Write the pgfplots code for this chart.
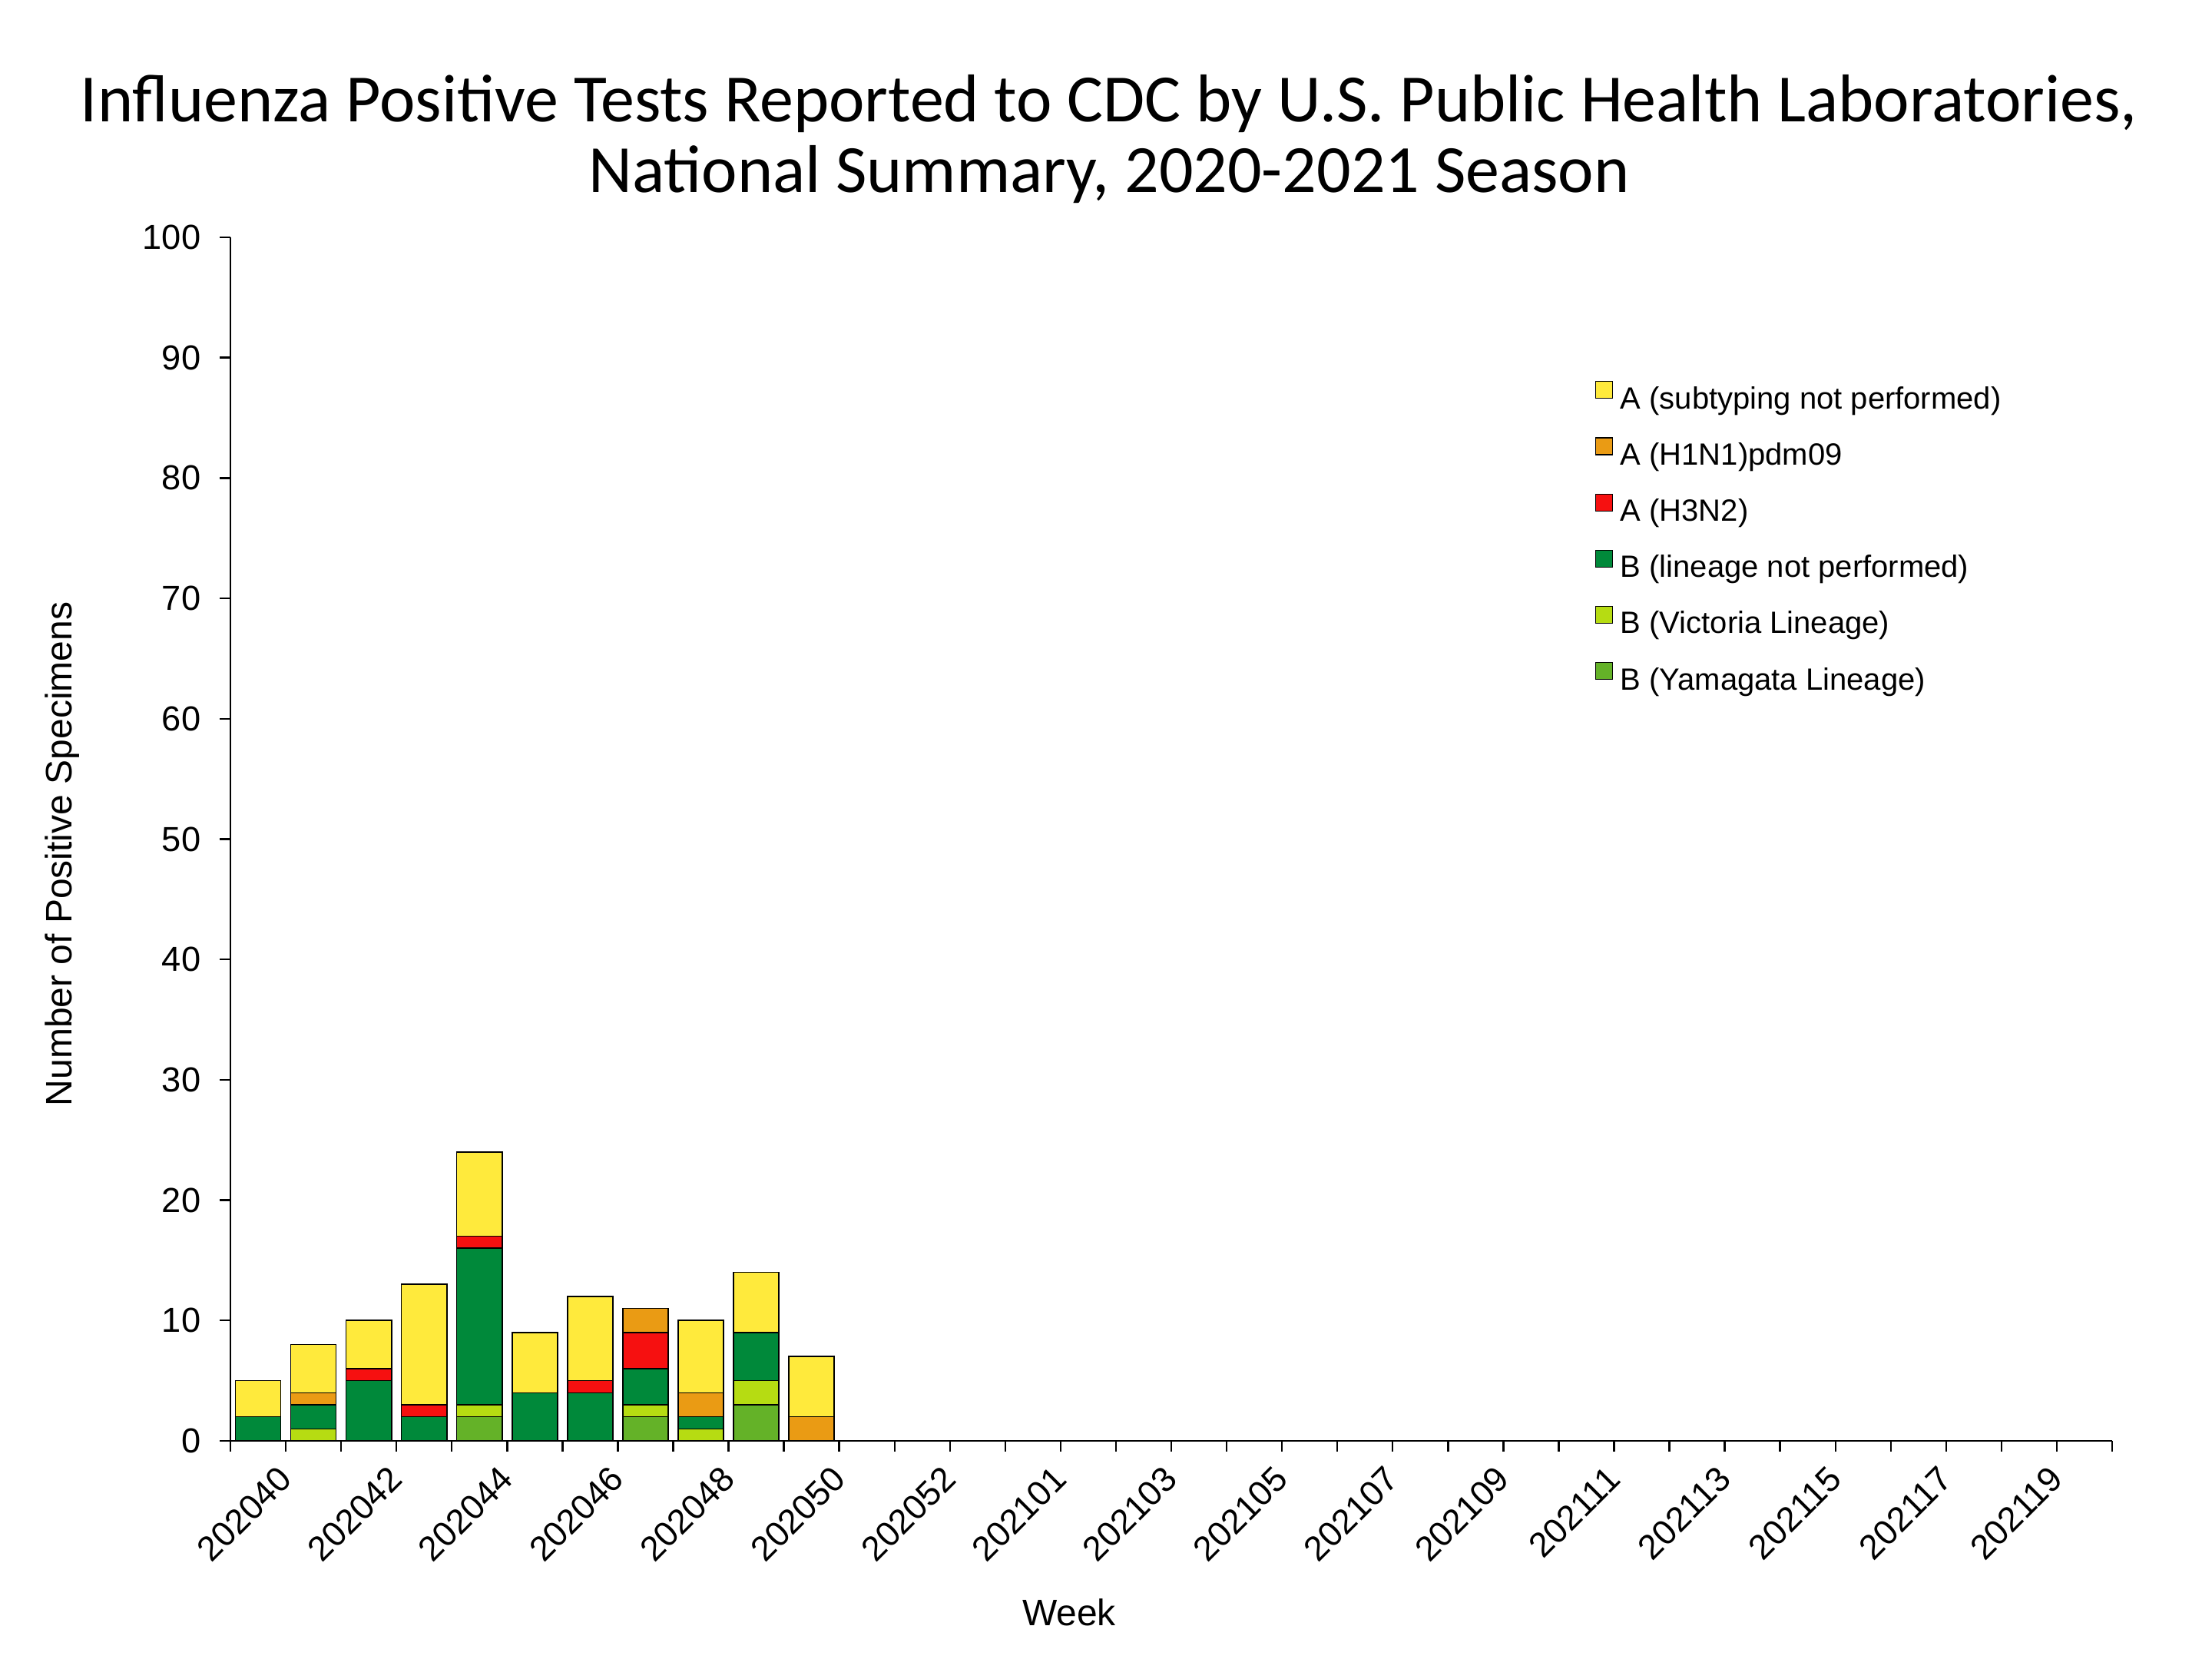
\documentclass[border=0pt]{standalone}
\usepackage{pgfplots}
\usepackage{pgfplotstable}
\pgfplotsset{compat=1.18}
\usepackage{fontspec}
\setmainfont{Liberation Sans}
\newfontfamily\titlefont{Carlito}

\definecolor{asub}{RGB}{255,234,60}
\definecolor{hone}{RGB}{234,155,20}
\definecolor{hthree}{RGB}{246,16,16}
\definecolor{blin}{RGB}{0,137,58}
\definecolor{bvic}{RGB}{182,220,18}
\definecolor{byam}{RGB}{100,178,40}

% week index, B Yamagata, B Victoria, B lineage n.p., A H3N2, A H1N1pdm09, A subtyping n.p.
\pgfplotstableread{
x yam vic blin hthree hone asub
0 0 0 2  0 0 3
1 0 1 2  0 1 4
2 0 0 5  1 0 4
3 0 0 2  1 0 10
4 2 1 13 1 0 7
5 0 0 4  0 0 5
6 0 0 4  1 0 7
7 2 1 3  3 2 0
8 0 1 1  0 2 6
9 3 2 4  0 0 5
10 0 0 0 0 2 5
}\flu

\begin{document}
\begin{tikzpicture}
\path[use as bounding box] (0,0) rectangle (720pt,540pt);
\begin{axis}[
    at={(75pt,71pt)}, anchor=south west,
    scale only axis,
    width=612.5pt, height=391.75pt,
    ybar stacked,
    bar width=14.8pt,
    xmin=-0.5, xmax=33.5,
    ymin=0, ymax=100,
    ytick={0,10,...,100},
    xtick={0,2,...,32},
    xticklabels={202040,202042,202044,202046,202048,202050,202052,202101,202103,202105,202107,202109,202111,202113,202115,202117,202119},
    xtick style={draw=none},
    extra x ticks={-0.5,0.5,...,33.5},
    extra x tick labels={},
    extra x tick style={xtick style={draw=black}},
    axis x line*=bottom,
    axis y line*=left,
    axis line style={line width=0.6pt},
    tick style={line width=0.6pt, black},
    tick align=outside,
    major tick length=3.5pt,
    /pgf/number format/assume math mode=true,
    ticklabel style={font=\fontsize{11.3}{13}\selectfont},
    xticklabel style={rotate=45, anchor=north east, inner sep=0pt, yshift=-7pt, xshift=1.5pt},
    yticklabel style={inner sep=0pt, xshift=-6pt},
    every axis plot/.append style={draw=black, line width=0.4pt},
    reverse legend,
    legend cell align=left,
    legend style={draw=none, fill=none, at={(0.725,0.881)}, anchor=north west,
        font=\fontsize{10}{12}\selectfont, inner sep=0pt, row sep=6.85pt,
        nodes={inner sep=0pt, text height=7.5pt, text depth=2.5pt}},
    legend image code/.code={
        \draw[#1, draw=black, line width=0.3pt] (0pt,0.8pt) rectangle (5.5pt,6.3pt);
        \path[draw=none, fill=none] (5.5pt,0pt) -- (8pt,0pt);},
]
\addplot[fill=byam] table[x=x, y=yam] {\flu};
\addplot[fill=bvic] table[x=x, y=vic] {\flu};
\addplot[fill=blin] table[x=x, y=blin] {\flu};
\addplot[fill=hthree] table[x=x, y=hthree] {\flu};
\addplot[fill=hone] table[x=x, y=hone] {\flu};
\addplot[fill=asub] table[x=x, y=asub] {\flu};
\legend{B (Yamagata Lineage), B (Victoria Lineage), B (lineage not performed), A (H3N2), A (H1N1)pdm09, A (subtyping not performed)}
\end{axis}
\node[font=\titlefont\fontsize{22}{26}\selectfont, anchor=base] at (361pt,500.25pt) {Influenza Positive Tests Reported to CDC by U.S. Public Health Laboratories,};
\node[font=\titlefont\fontsize{22}{26}\selectfont, anchor=base] at (361pt,477.25pt) {National Summary, 2020-2021 Season};
\node[font=\fontsize{12}{14}\selectfont, anchor=base] at (348pt,10.75pt) {Week};
\node[font=\fontsize{12}{14}\selectfont, anchor=base, rotate=90] at (23.25pt,262pt) {Number of Positive Specimens};
\end{tikzpicture}
\end{document}
